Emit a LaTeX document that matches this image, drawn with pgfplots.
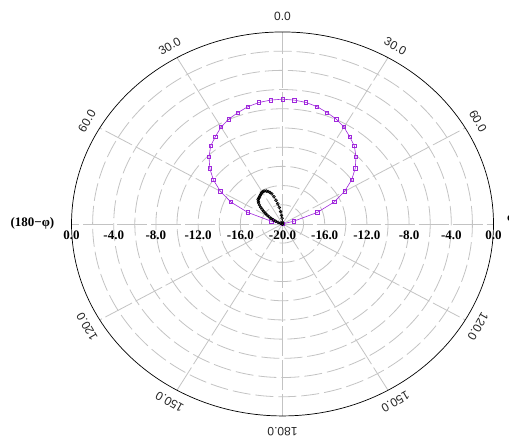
\documentclass[border=0pt]{standalone}
\usepackage{pgfplots}
\pgfplotsset{compat=1.18}
\usepackage{pgfplotstable}
\usepackage{fontspec}
\setmainfont{Liberation Serif}
\newfontfamily\sansf{Liberation Sans}
\definecolor{gridgray}{RGB}{195,195,195}
\definecolor{violetc}{RGB}{160,40,220}

\pgfplotstableread{
t db
-80 -20.0
-75 -18.9
-70 -16.5
-65 -14.6
-60 -13.2
-55 -12.0
-50 -11.0
-45 -10.15
-40 -9.4
-35 -8.9
-30 -8.35
-25 -7.95
-20 -7.65
-15 -7.35
-10 -7.15
-5 -7.05
0 -7.0
5 -7.05
10 -7.15
15 -7.35
20 -7.65
25 -7.95
30 -8.35
35 -8.9
40 -9.4
45 -10.15
50 -11.0
55 -12.0
60 -13.2
65 -14.6
70 -16.5
75 -18.9
80 -20.0
}\violetdata

\pgfplotstableread{
t db
0 -20.0
-2 -19.8
-4 -19.4
-6 -19.1
-8 -18.7
-10 -18.25
-12 -17.85
-14 -17.45
-16 -17.05
-18 -16.7
-20 -16.5
-22 -16.35
-24 -16.25
-26 -16.18
-28 -16.15
-30 -16.17
-32 -16.22
-34 -16.3
-36 -16.38
-38 -16.45
-40 -16.5
-42 -16.55
-44 -16.7
-46 -16.85
-48 -17.05
-50 -17.3
-52 -17.55
-54 -17.8
-56 -18.05
-58 -18.3
-60 -18.55
-62 -18.8
-64 -19.05
-66 -19.3
-68 -19.55
-70 -19.8
-72 -20.0
}\blackdata

\begin{document}
\begin{tikzpicture}
\begin{axis}[
  x=10.55pt, y=9.6pt,
  xmin=-26.78, xmax=21.47, ymin=-22.6, ymax=23.33,
  hide axis, clip=false, scale only axis,
]
\coordinate (bl) at (axis cs:-26.78,-22.6);
\coordinate (tr) at (axis cs:21.47,23.33);
% grid ellipses
\pgfplotsinvokeforeach{2,4,6,8,10,12,14,16,18}{
  \draw[gridgray, line width=0.8pt, dash pattern=on 18pt off 5pt] (axis cs:0,0) ellipse [x radius=#1, y radius=#1];
}
% spokes
\pgfplotsinvokeforeach{0,30,60,90,120,150,180,210,240,270,300,330}{
  \draw[gridgray, line width=0.8pt, dash pattern=on 30pt off 4pt] (axis cs:0,0) -- (axis cs:{20*sin(#1)},{20*cos(#1)});
}
\draw[black, line width=0.7pt] (axis cs:0,0) ellipse [x radius=20, y radius=20];

% data
\addplot[violetc, line width=0.6pt, mark=square, mark size=1.7pt, mark options={solid}]
  table[x expr={(\thisrow{db}+20)*sin(\thisrow{t})}, y expr={(\thisrow{db}+20)*cos(\thisrow{t})}] {\violetdata};
\addplot[black, line width=0.6pt, mark=o, mark size=1.4pt]
  table[x expr={(\thisrow{db}+20)*sin(\thisrow{t})}, y expr={(\thisrow{db}+20)*cos(\thisrow{t})}] {\blackdata};

% angle labels
\begin{scope}[every node/.style={font=\sansf\fontsize{12}{12}\selectfont, text=black!85}]
\node at (axis cs:0,21.6) {0.0};
\node[rotate=-30] at (axis cs:{21.4*sin(30)},{21.4*cos(30)}) {30.0};
\node[rotate=30] at (axis cs:{-21.4*sin(30)},{21.4*cos(30)}) {30.0};
\node[rotate=-60] at (axis cs:{21.4*sin(60)},{21.4*cos(60)}) {60.0};
\node[rotate=60] at (axis cs:{-21.4*sin(60)},{21.4*cos(60)}) {60.0};
\node[rotate=-120] at (axis cs:{21.4*sin(120)},{21.4*cos(120)}) {120.0};
\node[rotate=120] at (axis cs:{-21.4*sin(120)},{21.4*cos(120)}) {120.0};
\node[rotate=-150] at (axis cs:{21.4*sin(150)},{21.4*cos(150)}) {150.0};
\node[rotate=150] at (axis cs:{-21.4*sin(150)},{21.4*cos(150)}) {150.0};
\node[rotate=180] at (axis cs:0,-21.6) {180.0};
\end{scope}

% radial labels
\begin{scope}[every node/.style={font=\bfseries\fontsize{13}{13}\selectfont}]
\node at (axis cs:-20,-1.15) {0.0};
\node at (axis cs:-16,-1.15) {-4.0};
\node at (axis cs:-12,-1.15) {-8.0};
\node at (axis cs:-8,-1.15) {-12.0};
\node at (axis cs:-4,-1.15) {-16.0};
\node at (axis cs:0,-1.15) {-20.0};
\node at (axis cs:4,-1.15) {-16.0};
\node at (axis cs:8,-1.15) {-12.0};
\node at (axis cs:12,-1.15) {-8.0};
\node at (axis cs:16,-1.15) {-4.0};
\node at (axis cs:20,-1.15) {0.0};
\node[anchor=east] at (axis cs:-21.3,0.05) {(180−φ)};
\node[anchor=west] at (axis cs:20.95,0.4) {φ};
\end{scope}
\end{axis}
\pgfresetboundingbox
\path[use as bounding box] (bl) rectangle (tr);
\end{tikzpicture}
\end{document}
